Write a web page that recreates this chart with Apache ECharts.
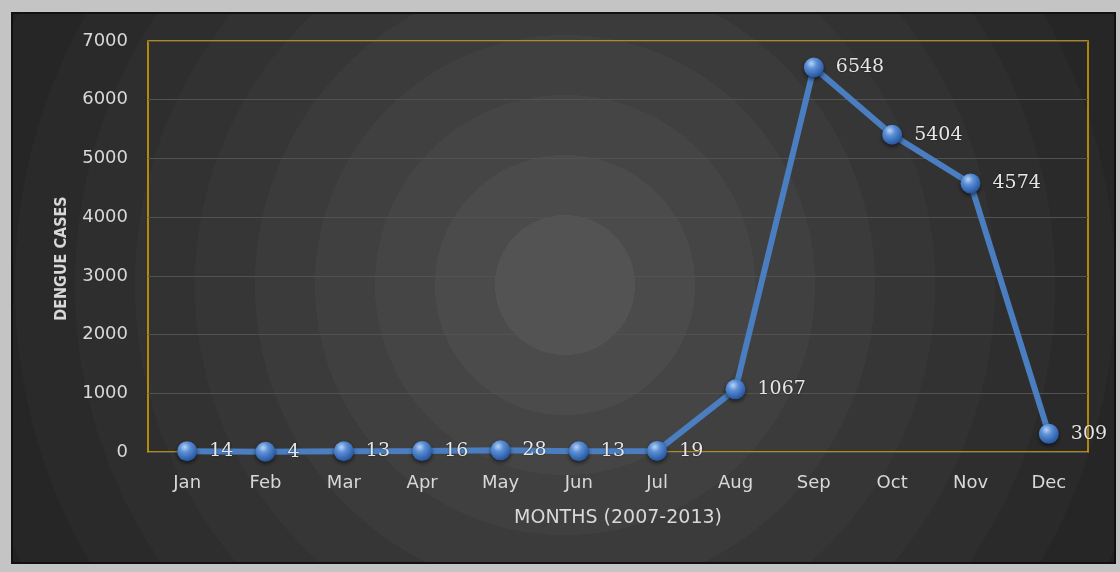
<!DOCTYPE html>
<html>
<head>
<meta charset="utf-8">
<script src="https://cdn.jsdelivr.net/npm/echarts@6/dist/echarts.min.js"></script>
<style>
  html, body { margin: 0; padding: 0; background: #c4c4c4; }
  #main { width: 1120px; height: 572px; }
</style>
</head>
<body>
<div id="main"></div>
<script>
// data
var months = ['Jan', 'Feb', 'Mar', 'Apr', 'May', 'Jun', 'Jul', 'Aug', 'Sep', 'Oct', 'Nov', 'Dec'];
var cases = [14, 4, 13, 16, 28, 13, 19, 1067, 6548, 5404, 4574, 309];
var yTicks = {min: 0, max: 7000, interval: 1000};

var myChart = echarts.init(document.getElementById('main'));

// banded radial background (concentric rings)
var bandColors = ['#535353', '#4b4b4b', '#454545', '#404040', '#3b3b3b', '#363636',
    '#323232', '#2e2e2e', '#2a2a2a', '#262626', '#222222'];
var bandStep = 60;
var maxR = 660;
var stops = [];
bandColors.forEach(function (c, i) {
    var r0 = i === 0 ? 0 : (i * bandStep + 10) / maxR;
    var r1 = i === bandColors.length - 1 ? 1 : ((i + 1) * bandStep + 10) / maxR;
    stops.push({offset: r0, color: c});
    stops.push({offset: r1, color: c});
});

var labelColor = '#d8d8d8';
var sans = 'DejaVu Sans';
var option = {
    backgroundColor: '#c4c4c4',
    animation: false,
    graphic: [{
        type: 'rect',
        z: -100,
        shape: {x: 12, y: 13, width: 1103, height: 550},
        style: {
            fill: {
                type: 'radial', x: 565, y: 285, r: maxR, global: true,
                colorStops: stops
            },
            stroke: '#111',
            lineWidth: 2
        }
    }],
    grid: {
        left: 148, right: 32, top: 41, bottom: 120,
        show: true,
        borderColor: '#e0a600',
        borderWidth: 1.5,
        backgroundColor: 'transparent'
    },
    xAxis: {
        type: 'category',
        data: months,
        boundaryGap: true,
        name: 'MONTHS (2007-2013)',
        nameLocation: 'middle',
        nameGap: 57,
        nameTextStyle: {color: labelColor, fontSize: 19, fontFamily: sans},
        axisLine: {show: false},
        axisTick: {show: false},
        axisLabel: {color: labelColor, fontSize: 18, fontFamily: sans, margin: 22}
    },
    yAxis: {
        type: 'value',
        min: yTicks.min,
        max: yTicks.max,
        interval: yTicks.interval,
        name: 'DENGUE CASES',
        nameLocation: 'middle',
        nameGap: 78,
        nameRotate: 90,
        nameTextStyle: {
            color: labelColor, fontSize: 16, fontWeight: 'bold',
            fontFamily: 'DejaVu Sans Condensed, DejaVu Sans',
            padding: [0, 24, 0, 0]
        },
        axisLine: {show: false},
        axisTick: {show: false},
        splitLine: {lineStyle: {color: '#525252', width: 1}},
        axisLabel: {
            color: labelColor, fontSize: 18, fontFamily: sans, margin: 20,
            formatter: function (v) { return String(v); }
        }
    },
    series: [{
        type: 'line',
        data: cases,
        symbol: 'circle',
        symbolSize: 20,
        lineStyle: {color: '#4a7ec0', width: 6},
        itemStyle: {
            color: {
                type: 'radial', x: 0.38, y: 0.3, r: 0.75,
                colorStops: [
                    {offset: 0, color: '#b9d3f3'},
                    {offset: 0.35, color: '#5b8fd6'},
                    {offset: 1, color: '#1f4f99'}
                ]
            },
            shadowColor: 'rgba(0,0,0,0.6)',
            shadowBlur: 4,
            shadowOffsetY: 2
        },
        label: {
            show: true,
            position: 'right',
            distance: 12,
            color: '#e6e6e6',
            fontSize: 19,
            fontFamily: 'DejaVu Serif',
            textShadowColor: 'rgba(0,0,0,0.6)',
            textShadowBlur: 2
        }
    }]
};

myChart.setOption(option);
</script>
</body>
</html>
